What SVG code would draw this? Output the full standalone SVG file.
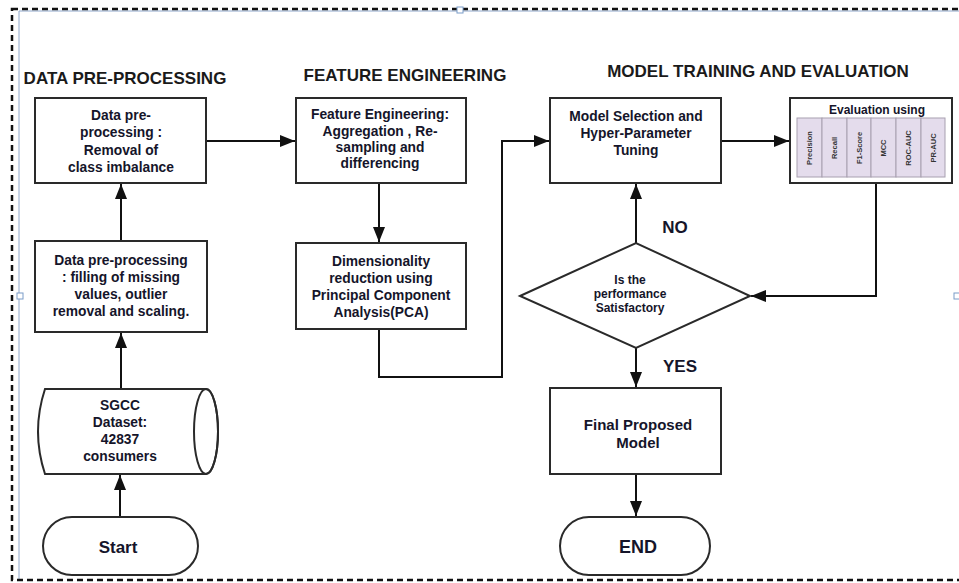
<svg xmlns="http://www.w3.org/2000/svg" width="959" height="583" viewBox="0 0 959 583">
<style>
  .box{fill:#fff;stroke:#2a2a2a;stroke-width:2}
  .t{font-family:"Liberation Sans",Arial,sans-serif;font-weight:bold;fill:#15152a;text-anchor:middle}
  .h{font-size:17px;fill:#1a1a1a}
  .b{font-size:13.8px}
  .m{font-size:7.5px;fill:#333}
  .col{fill:#e4dcec;stroke:#a8a0b0;stroke-width:1}
  .c{fill:none;stroke:#111;stroke-width:2}
</style>
<defs>
  <marker id="ah" markerUnits="userSpaceOnUse" markerWidth="15" markerHeight="12" refX="15" refY="6" orient="auto">
    <path d="M0,0 L15,6 L0,12 z" fill="#111"/>
  </marker>
</defs>
<rect width="959" height="583" fill="#fff"/>
<!-- frame -->
<g id="frame">
  <line x1="19" y1="11" x2="959" y2="11" stroke="#8fa8cc" stroke-width="1"/>
  <line x1="19" y1="11" x2="19" y2="580" stroke="#8fa8cc" stroke-width="1"/>
  <rect x="12" y="9" width="960" height="571" fill="none" stroke="#111" stroke-width="2.5" stroke-dasharray="6,4"/>
  <rect x="17" y="293" width="6" height="6" fill="#fff" stroke="#7a9cc8" stroke-width="1"/>
  <rect x="457" y="7" width="6" height="6" fill="#fff" stroke="#7a9cc8" stroke-width="1"/>
  <rect x="954" y="293" width="6" height="6" fill="#fff" stroke="#7a9cc8" stroke-width="1"/>
</g>
<!-- headings -->
<g id="headings">
  <text class="t h" x="125" y="84">DATA PRE-PROCESSING</text>
  <text class="t h" x="405" y="81">FEATURE ENGINEERING</text>
  <text class="t h" x="758" y="77">MODEL TRAINING AND EVALUATION</text>
</g>
<!-- connectors -->
<g id="connectors">
  <line class="c" x1="120" y1="517" x2="120" y2="475" marker-end="url(#ah)"/>
  <line class="c" x1="121" y1="389" x2="121" y2="333" marker-end="url(#ah)"/>
  <line class="c" x1="121" y1="241" x2="121" y2="184" marker-end="url(#ah)"/>
  <line class="c" x1="206" y1="141" x2="295" y2="141" marker-end="url(#ah)"/>
  <line class="c" x1="379" y1="183" x2="379" y2="242" marker-end="url(#ah)"/>
  <polyline class="c" points="379,329 379,377 502,377 502,141 549,141" marker-end="url(#ah)"/>
  <line class="c" x1="721" y1="141" x2="789" y2="141" marker-end="url(#ah)"/>
  <polyline class="c" points="876,183 876,296 751,296" marker-end="url(#ah)"/>
  <line class="c" x1="636" y1="243" x2="636" y2="184" marker-end="url(#ah)"/>
  <line class="c" x1="636" y1="348" x2="636" y2="387" marker-end="url(#ah)"/>
  <line class="c" x1="636" y1="474" x2="636" y2="516" marker-end="url(#ah)"/>
  <text class="t" style="font-size:17px" x="675" y="233">NO</text>
  <text class="t" style="font-size:17px" x="680" y="372">YES</text>
</g>
<!-- nodes -->
<g id="start">
  <rect class="box" x="43" y="517" width="155" height="58" rx="29"/>
  <text class="t" style="font-size:17px" x="118" y="553">Start</text>
</g>
<g id="dataset">
  <path class="box" d="M45,389 L206,389 A12,42.5 0 0 1 206,474 L45,474 Q31,431.5 45,389 Z"/>
  <ellipse cx="206" cy="431.5" rx="12" ry="42.5" fill="none" stroke="#2a2a2a" stroke-width="2"/>
  <text class="t b" x="120" y="410">SGCC</text>
  <text class="t b" x="120" y="427">Dataset:</text>
  <text class="t b" x="120" y="444">42837</text>
  <text class="t b" x="120" y="461">consumers</text>
</g>
<g id="fill-missing">
  <rect class="box" x="35" y="241" width="172" height="91"/>
  <text class="t b" x="121" y="265">Data pre-processing</text>
  <text class="t b" x="121" y="282">: filling of missing</text>
  <text class="t b" x="121" y="299">values, outlier</text>
  <text class="t b" x="121" y="316">removal and scaling.</text>
</g>
<g id="class-imbalance">
  <rect class="box" x="35" y="98" width="171" height="85"/>
  <text class="t b" x="121" y="120">Data pre-</text>
  <text class="t b" x="121" y="137">processing :</text>
  <text class="t b" x="121" y="155">Removal of</text>
  <text class="t b" x="121" y="172">class imbalance</text>
</g>
<g id="feature-eng">
  <rect class="box" x="296" y="98" width="170" height="85"/>
  <text class="t b" x="380" y="119">Feature Engineering:</text>
  <text class="t b" x="380" y="136">Aggregation , Re-</text>
  <text class="t b" x="380" y="152">sampling and</text>
  <text class="t b" x="380" y="168">differencing</text>
</g>
<g id="pca">
  <rect class="box" x="296" y="243" width="170" height="86"/>
  <text class="t b" x="381" y="266">Dimensionality</text>
  <text class="t b" x="381" y="283">reduction using</text>
  <text class="t b" x="381" y="300">Principal Component</text>
  <text class="t b" x="381" y="317">Analysis(PCA)</text>
</g>
<g id="model-selection">
  <rect class="box" x="550" y="98" width="171" height="85"/>
  <text class="t b" x="636" y="121">Model Selection and</text>
  <text class="t b" x="636" y="138">Hyper-Parameter</text>
  <text class="t b" x="636" y="155">Tuning</text>
</g>
<g id="evaluation">
  <rect class="box" x="790" y="98" width="162" height="85"/>
  <text class="t" style="font-size:12px" x="877" y="114">Evaluation using</text>
  <rect class="col" x="797" y="118" width="25" height="59"/>
  <rect class="col" x="822" y="118" width="25" height="59"/>
  <rect class="col" x="847" y="118" width="24" height="59"/>
  <rect class="col" x="871" y="118" width="25" height="59"/>
  <rect class="col" x="896" y="118" width="25" height="59"/>
  <rect class="col" x="921" y="118" width="24" height="59"/>
  <text class="t m" transform="translate(812,148) rotate(-90)">Precision</text>
  <text class="t m" transform="translate(837,148) rotate(-90)">Recall</text>
  <text class="t m" transform="translate(862,148) rotate(-90)">F1-Score</text>
  <text class="t m" transform="translate(886,148) rotate(-90)">MCC</text>
  <text class="t m" transform="translate(911,148) rotate(-90)">ROC-AUC</text>
  <text class="t m" transform="translate(936,148) rotate(-90)">PR-AUC</text>
</g>
<g id="decision">
  <polygon class="box" points="520,296 636,243 750,296 636,348"/>
  <text class="t" style="font-size:12px" x="630" y="284">Is the</text>
  <text class="t" style="font-size:12px" x="630" y="298">performance</text>
  <text class="t" style="font-size:12px" x="630" y="312">Satisfactory</text>
</g>
<g id="final-model">
  <rect class="box" x="550" y="388" width="171" height="86"/>
  <text class="t" style="font-size:15px" x="638" y="430">Final Proposed</text>
  <text class="t" style="font-size:15px" x="638" y="448">Model</text>
</g>
<g id="end">
  <rect class="box" x="560" y="517" width="150" height="58" rx="29"/>
  <text class="t" style="font-size:18px" x="638" y="553">END</text>
</g>
</svg>
